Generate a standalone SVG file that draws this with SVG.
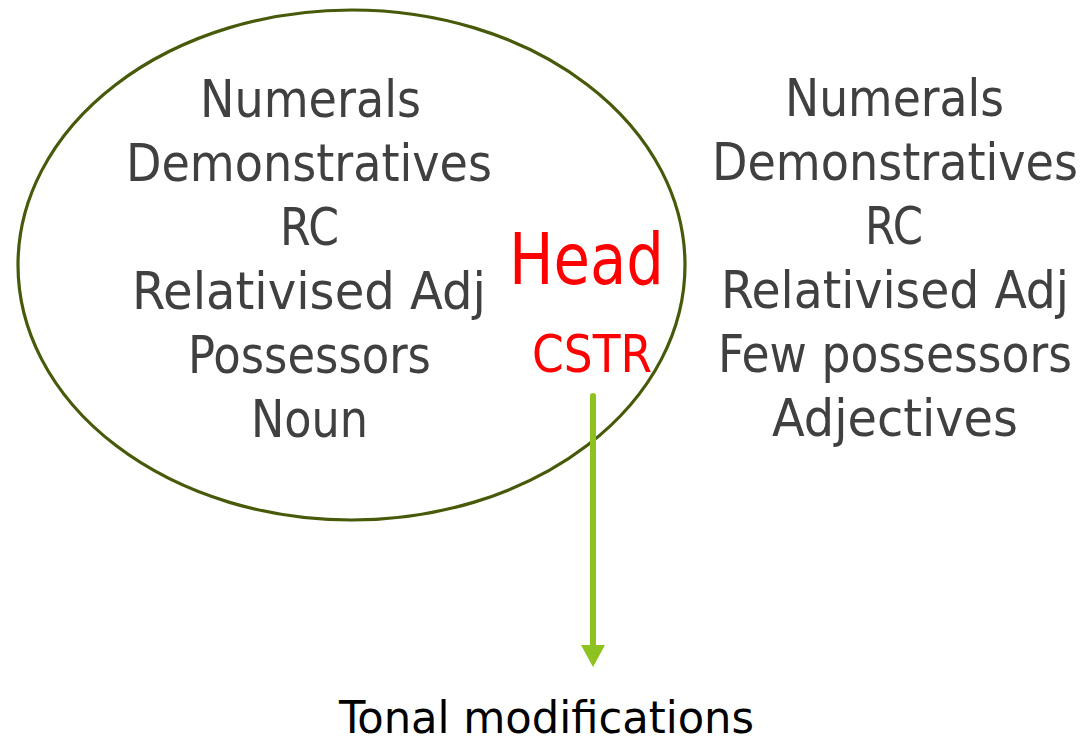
<svg xmlns="http://www.w3.org/2000/svg" width="1084" height="741" viewBox="0 0 1084 741">
<style>
.t{font-family:"DejaVu Sans Condensed","DejaVu Sans",sans-serif;font-size:52px;fill:#404040}
.r{font-family:"DejaVu Sans Condensed","DejaVu Sans",sans-serif;fill:#ff0000}
.b{font-family:"DejaVu Sans Condensed","DejaVu Sans",sans-serif;font-size:44px;fill:#000000}
</style>
<rect width="1084" height="741" fill="#ffffff"/>
<g id="ellipse-group">
<ellipse cx="351.5" cy="265" rx="333.5" ry="255" fill="none" stroke="#465a0a" stroke-width="3.2"/>
</g>
<g id="left-list">
<text class="t" x="200" y="117" textLength="221" lengthAdjust="spacingAndGlyphs">Numerals</text>
<text class="t" x="126" y="181" textLength="366" lengthAdjust="spacingAndGlyphs">Demonstratives</text>
<text class="t" x="280" y="245" textLength="59" lengthAdjust="spacingAndGlyphs">RC</text>
<text class="t" x="132" y="309" textLength="354" lengthAdjust="spacingAndGlyphs">Relativised Adj</text>
<text class="t" x="188" y="373" textLength="243" lengthAdjust="spacingAndGlyphs">Possessors</text>
<text class="t" x="251" y="437" textLength="117" lengthAdjust="spacingAndGlyphs">Noun</text>
</g>
<g id="head">
<text class="r" x="509" y="284" font-size="72" textLength="155" lengthAdjust="spacingAndGlyphs">Head</text>
</g>
<g id="cstr">
<text class="r" x="532" y="372" font-size="52" textLength="120" lengthAdjust="spacingAndGlyphs">CSTR</text>
</g>
<g id="right-list">
<text class="t" x="785" y="116" textLength="219" lengthAdjust="spacingAndGlyphs">Numerals</text>
<text class="t" x="712" y="180" textLength="366" lengthAdjust="spacingAndGlyphs">Demonstratives</text>
<text class="t" x="865" y="244" textLength="58" lengthAdjust="spacingAndGlyphs">RC</text>
<text class="t" x="721" y="308" textLength="348" lengthAdjust="spacingAndGlyphs">Relativised Adj</text>
<text class="t" x="718" y="372" textLength="354" lengthAdjust="spacingAndGlyphs">Few possessors</text>
<text class="t" x="772" y="436" textLength="246" lengthAdjust="spacingAndGlyphs">Adjectives</text>
</g>
<g id="connectors">
<line x1="593" y1="396" x2="593" y2="646" stroke="#8dc21f" stroke-width="6" stroke-linecap="round"/>
<path d="M581,645 L605,645 L593,667 Z" fill="#8dc21f"/>
</g>
<g id="tonal">
<text class="b" x="339" y="733" textLength="415" lengthAdjust="spacingAndGlyphs">Tonal modifications</text>
</g>
</svg>
